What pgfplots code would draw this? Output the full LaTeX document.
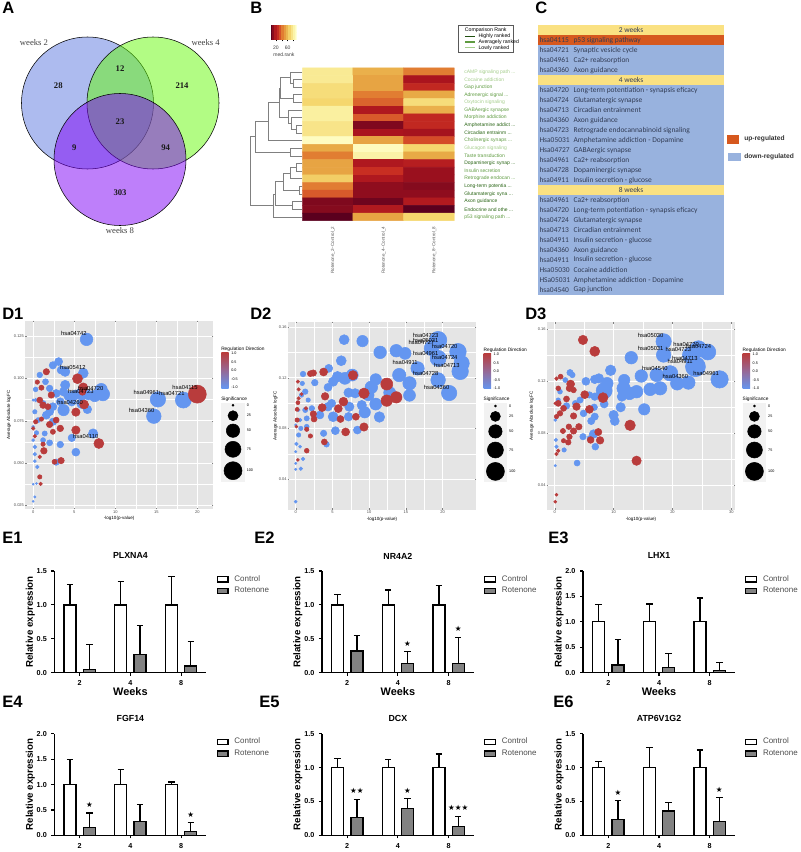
\documentclass[border=0pt]{standalone}
\usepackage{fontspec}
\usepackage{pgfplots}
\usepackage{pgfplotstable}
\pgfplotsset{compat=1.18}
\setmainfont{Liberation Sans}
\newfontfamily\venn{Liberation Serif}
\newfontfamily\calib{Carlito}
\newfontfamily\djv{DejaVu Sans}
\newcommand\fs[1]{\fontsize{#1}{#1}\selectfont}

\definecolor{vblue}{RGB}{92,120,224}
\definecolor{vgreen}{RGB}{102,250,10}
\definecolor{vpurple}{RGB}{125,0,245}
\definecolor{ggbg}{RGB}{229,229,229}
\definecolor{ggblue}{RGB}{100,150,240}
\definecolor{ggred}{RGB}{185,60,60}
\definecolor{ggmid}{RGB}{150,105,150}
\definecolor{gl}{RGB}{165,205,140}
\definecolor{gm}{RGB}{95,155,65}
\definecolor{gd}{RGB}{40,100,20}
\definecolor{thead}{RGB}{250,225,130}
\definecolor{tblue}{RGB}{152,178,222}
\definecolor{torange}{RGB}{214,88,30}
\definecolor{ttext}{RGB}{50,60,85}
\definecolor{rotgray}{RGB}{130,130,130}

\pgfplotsset{
  pxbox/.style n args={4}{at={({#1*0.75pt},{-#2*0.75pt})},anchor=north west,
    scale only axis,width={#3*0.75pt},height={#4*0.75pt}},
  /pgf/number format/assume math mode=true,
  sized/.style={scatter,only marks,mark=*,point meta=explicit,
    visualization depends on={\thisrow{r}*0.75 \as \ptr}},
  sizeit/.style={scatter/@pre marker code/.append style={/tikz/mark size=\ptr}},
  bubbles/.style={sized,scatter/use mapped color={draw=mapped color,fill=mapped color},sizeit},
  dstyle/.style={scaled ticks=false,axis background/.style={fill=ggbg},
    grid=both,major grid style={white,line width=0.5pt},minor grid style={white,line width=0.25pt},
    axis line style={draw=none},tick style={gray,line width=0.25pt},major tick length=1.2pt,minor tick length=0pt,
    minor x tick num=1,minor y tick num=1,
    tick label style={font=\fs{3},text=black!70,inner sep=0.6pt},
    xlabel={-log10(p-value)},ylabel={Average Absolute logFC},
    label style={font=\fs{3.4}},
    xlabel style={at={(axis description cs:0.5,-0.05)},anchor=center},
    colormap={updown}{rgb255=(100,150,240) rgb255=(185,60,60)},
    point meta min=-1,point meta max=1,clip=false},
  heat/.style={colormap={hm}{rgb255(0)=(90,0,30) rgb255(15)=(170,20,30) rgb255(30)=(205,50,35)
    rgb255(45)=(225,125,50) rgb255(60)=(232,170,70) rgb255(75)=(245,215,110) rgb255(88)=(250,240,160) rgb255(100)=(255,255,200)},
    point meta min=0,point meta max=1},
  % frames shared by a plot and the text axis drawn over it
  frameA/.style={pxbox={0}{0}{240}{240},hide axis,xmin=0,xmax=240,ymin=0,ymax=240,y dir=reverse,clip=false},
  frameDa/.style={pxbox={25}{320.7}{188.3}{188.6},xmin=-1,xmax=21.95,ymin=0.0228,ymax=0.134},
  frameDb/.style={pxbox={287.7}{321.7}{188.6}{188.3},xmin=-1.09,xmax=24.6,ymin=0.0156,ymax=0.1642},
  frameDc/.style={pxbox={546.7}{322.3}{188.6}{187.7},xmin=-1.36,xmax=30.67,ymin=0.0208,ymax=0.1655},
  textonly/.style={hide axis,clip=false},
}

% D panels: d = regulation direction, r = bubble radius
\pgfplotstableread{
x y d r
18.3 .0872 -1 8
15.2 .0876 -1 7.7
14.7 .0777 -1 7.3
6.5 .1230 -1 6.3
8.5 .0907 -1 6.7
8.3 .0935 -1 6
7.5 .0896 -1 5.7
6.7 .0902 -1 5
5.9 .0911 -1 5.7
5.1 .0902 -1 5
4.3 .0896 -1 4.7
3.7 .0921 -1 4.3
2.8 .0911 -1 4
3.9 .0961 -1 4.7
6.1 .1030 -1 5
3.9 .1039 -1 4.7
3.4 .1049 -1 4
3.1 .1099 -1 4
2.4 .1077 -1 3.7
.8 .1020 -1 2.8
1.5 .0980 -1 3
.3 .0935 -1 2.4
2.0 .0941 -1 3.3
0 .0872 -1 1.2
.3 .0872 -1 1.8
3.7 .0813 -1 5.7
2.4 .0833 -1 4
2 .0803 -1 4
1.2 .0852 -1 3
1.6 .0783 -1 4
6.6 .0817 -1 4.3
5.9 .0852 -1 5
4.7 .0862 -1 4.3
3.3 .0862 -1 4
.2 .0803 -1 2.2
.6 .0754 -1 2.5
2.4 .0744 -1 3.7
7.3 .0675 -1 4.7
4.7 .0649 -1 3.7
3.3 .0610 -1 3.3
5.2 .0565 -1 4
2 .0620 -1 3
1.4 .0675 -1 2.6
.4 .0679 -1 2.2
.2 .0596 -1 1.9
.2 .0553 -1 1.8
1.2 .0636 -1 2.5
2.8 .0506 -1 3.2
.5 .0478 -1 1.8
.2 .0512 -1 1.5
0 .0376 -1 1
.2 .0301 -1 1.2
0 .0275 -1 1
.4 .0380 -1 1
0 .0636 -1 1.5
0 .0714 -1 1.5
20.0 .0907 1 9
5.4 .0998 1 5
6.1 .0947 1 4.5
6 .0921 1 3.5
1.6 .1039 1 3.2
1 .0945 1 2.6
.5 .0978 1 2.2
2.2 .0902 1 3.2
.8 .0872 1 3
1.2 .0842 1 3.3
1.8 .0833 1 3
6.2 .0846 1 4.5
5.2 .0801 1 4.2
5.2 .0695 1 4.2
3.3 .0705 1 3.3
2 .0728 1 3.2
2.8 .0754 1 3
1 .0760 1 2.2
.3 .0744 1 2.2
0 .0705 1 1.8
.2 .0659 1 1.8
8 .0616 1 5
1.3 .0573 1 3.3
.8 .0537 1 1.8
1.2 .0612 1 2.2
3.4 .0515 1 3.2
2.6 .0508 1 2.5
.8 .0419 1 2.2
.9 .0378 1 1.8
2.4 .0685 1 2.6
}\dataDa

\pgfplotstableread{
x y d r
6.6 .1500 -1 5
9.1 .1489 -1 5.7
11.5 .1400 -1 6.3
13.7 .1413 -1 6.3
14.9 .1392 -1 6
19.4 .1497 -1 8.7
18.5 .1432 -1 7.3
22.1 .1405 -1 8.3
19.4 .1353 -1 8
22.6 .1313 -1 7.7
22.4 .1250 -1 8.3
16.6 .1274 -1 6.7
14.1 .1221 -1 6.7
15.5 .1156 -1 6.7
19.4 .1182 -1 7.3
20.9 .1079 -1 7.7
15.5 .1061 -1 6
12.8 .1082 -1 6
10.9 .1187 -1 5.7
10.3 .1124 -1 6.3
9.9 .1063 -1 5.7
10.9 .0992 -1 6
9.4 .0927 -1 5.7
11.4 .0890 -1 5.3
7.7 .1221 -1 6
6.7 .1195 -1 6
5.7 .1208 -1 5.3
5.1 .1169 -1 4.7
4.4 .1124 -1 4
6.2 .1334 -1 5
4.5 .1274 -1 4
1.0 .1229 -1 2.8
2.6 .1161 -1 3.3
.9 .1155 -1 2.2
1.3 .1090 -1 2.8
.8 .1063 -1 2.2
7.2 .1082 -1 4.7
8.1 .1077 -1 4.7
4.9 .0998 -1 4
4.4 .0971 -1 4.3
7.3 .0971 -1 4.7
9 .0984 -1 4.7
3.3 .0906 -1 4
5.1 .0892 -1 5
7.2 .0892 -1 4.3
1.5 .0879 -1 2.6
1.3 .0945 -1 2.6
2.2 .0958 -1 2.8
5.4 .0782 -1 4
3.8 .0761 -1 3.2
4.2 .0674 -1 2.8
8.4 .0787 -1 4
1.5 .0814 -1 2.4
.7 .0800 -1 2.2
.4 .0748 -1 2.2
.1 .0677 -1 1.8
.6 .0656 -1 1.5
0 .0616 -1 1.2
1 .0559 -1 1.8
.7 .0482 -1 1.8
0 .0524 -1 1.2
0 .0477 -1 1.2
0 .0222 -1 1.5
1.7 .1024 -1 2.2
.4 .0945 -1 1.5
0 .0827 -1 1.2
.6 .0866 -1 1.8
2 .1232 1 3
2.4 .1237 1 3.2
3.8 .1245 1 4
7.8 .1219 1 4.7
.3 .1169 1 1.7
.4 .1108 1 1.7
.8 .1071 1 1.5
.4 .1037 1 1.7
.3 .1003 1 2
.2 .0950 1 2
1.4 .0958 1 1.8
4 .1053 1 3.8
6.5 .1011 1 4.4
9.3 .1077 1 5.3
12.4 .1150 1 6
12.4 .1019 1 5.7
13.7 .1045 1 5.7
3.6 .0964 1 4
5.8 .0956 1 4
2.4 .0914 1 3.2
2.5 .0874 1 3
6.1 .0874 1 3.5
8.2 .0892 1 3.5
.2 .0866 1 2.2
.1 .0814 1 1.5
1.5 .0793 1 2.2
2 .0740 1 2.2
9.3 .0811 1 4.2
6.8 .0772 1 4
3.9 .0693 1 3
1.5 .0624 1 2.4
.3 .0551 1 1.5
}\dataDb

\pgfplotstableread{
x y d r
18.5 .1508 -1 7.7
24.4 .1449 -1 8.3
26 .1426 -1 8
23 .1403 -1 7.7
18.5 .1403 -1 7.3
13 .1382 -1 6.3
23.9 .1313 -1 10
19.6 .1262 -1 7.7
17.3 .1249 -1 6.7
14.7 .1241 -1 6.3
9.5 .1285 -1 5.3
28 .1215 -1 8.7
22.7 .1190 -1 6.7
20.8 .1184 -1 6.7
17.9 .1146 -1 6.7
16.2 .1138 -1 6.3
13.9 .1120 -1 6.3
12.7 .1107 -1 6.3
11.8 .1210 -1 5.7
11.7 .1146 -1 6.7
11.4 .1082 -1 4.7
11.2 .1000 -1 4.7
15.2 .0984 -1 5.7
8.9 .1184 -1 6
8.4 .1128 -1 8
7.5 .1223 -1 4.7
6.8 .1215 -1 4.3
5.3 .1200 -1 4
2.6 .1267 -1 3.2
3 .1249 -1 2.8
1.8 .1210 -1 2.5
8.4 .1025 -1 4
6.7 .1000 -1 3.3
4.9 .0953 -1 3.4
6.8 .0928 -1 3.6
6.2 .0894 -1 3.6
10 .0940 -1 4.7
10.2 .0894 -1 4.5
4.8 .0773 -1 3.2
6.6 .0794 -1 4.3
6 .0760 -1 3
6.9 .0696 -1 3.4
3.8 .0570 -1 3
1.6 .0671 -1 2.2
.1 .0550 -1 1.2
.9 .1120 -1 2.4
.6 .1056 -1 2.2
2 .1010 -1 3.3
4.3 .1056 -1 3.2
3.5 .1030 -1 3
6.8 .1082 -1 3.8
5.9 .1095 -1 3.2
.1 .0902 -1 1.5
.2 .0748 -1 1.7
.3 .0696 -1 1.8
4.8 .1519 1 4.7
6.8 .1431 1 5
8.2 .1074 1 5
12.8 .0861 1 5.3
13.9 .0588 1 4.7
.3 .1221 1 1.8
1 .1236 1 2.5
2.7 .1179 1 4
2.5 .1146 1 3.3
.6 .1146 1 2.4
5.1 .1097 1 4
5.9 .0984 1 4
3.2 .1133 1 2.8
2 .1064 1 3
.6 .1030 1 3
3.7 .1005 1 3.8
3.2 .0933 1 3.2
.9 .0953 1 2.8
1.5 .0992 1 3
.1 .1030 1 1.5
.3 .0928 1 2.2
2.4 .0850 1 2.8
3.2 .0817 1 3.2
4.1 .0850 1 3.2
1.4 .0817 1 2.6
7.4 .0809 1 3.6
6.1 .0748 1 3.4
7.7 .0745 1 3.8
2.5 .0773 1 2.8
2.3 .0730 1 2.8
1.5 .0742 1 2.2
.6 .0665 1 1.8
.3 .0640 1 1.8
.3 .0326 1 1.5
.1 .0272 1 1.5
}\dataDc

\pgfplotstableread{
x y r
11.7 2.6 1
11.7 13 5
11.7 28 6.7
11.7 46.6 8
11.7 68 9
}\dataKey

\pgfplotstableread{
x y c
0 0 .85
1 0 .62
2 0 .45
0 1 .85
1 1 .58
2 1 .15
0 2 .78
1 2 .58
2 2 .25
0 3 .78
1 3 .45
2 3 .60
0 4 .75
1 4 .40
2 4 .78
0 5 .88
1 5 .17
2 5 .62
0 6 .88
1 6 .38
2 6 .25
0 7 .82
1 7 .07
2 7 .25
0 8 .82
1 8 .15
2 8 .14
0 9 .98
1 9 .58
2 9 .35
0 10 .60
1 10 .97
2 10 .75
0 11 .45
1 11 .90
2 11 .60
0 12 .58
1 12 .17
2 12 .20
0 13 .58
1 13 .28
2 13 .12
0 14 .72
1 14 .17
2 14 .12
0 15 .45
1 15 .10
2 15 .08
0 16 .38
1 16 .10
2 16 .10
0 17 .07
1 17 .04
2 17 .18
0 18 .08
1 18 .18
2 18 .00
0 19 .00
1 19 .58
2 19 .75
}\dataHeat

% significance key and colour bar, shifted per D panel
\newcommand\sigkey[2]{%
  \begin{scope}[x=0.75pt,y=-0.75pt,shift={(#1,#2)}]
    \node[anchor=west,inner sep=0pt,font=\fs{3.6}] at (221,349.3) {Regulation Direction};
    \shade[bottom color=ggblue,top color=ggred,middle color=ggmid] (221.3,352.7) rectangle (228.7,388);
    \node[anchor=west,inner sep=0pt,font=\fs{2.8}] at (231,353.7) {1.0};
    \node[anchor=west,inner sep=0pt,font=\fs{2.8}] at (231,362.3) {0.5};
    \node[anchor=west,inner sep=0pt,font=\fs{2.8}] at (231,370.7) {0.0};
    \node[anchor=west,inner sep=0pt,font=\fs{2.8}] at (231,379.3) {-0.5};
    \node[anchor=west,inner sep=0pt,font=\fs{2.8}] at (231,387.3) {-1.0};
    \node[anchor=west,inner sep=0pt,font=\fs{3.6}] at (221,399) {Significance};
    \node[anchor=west,inner sep=0pt,font=\fs{2.8}] at (246.5,405.3) {0};
    \node[anchor=west,inner sep=0pt,font=\fs{2.8}] at (246.5,415.7) {25};
    \node[anchor=west,inner sep=0pt,font=\fs{2.8}] at (246.5,430.7) {50};
    \node[anchor=west,inner sep=0pt,font=\fs{2.8}] at (246.5,449.3) {75};
    \node[anchor=west,inner sep=0pt,font=\fs{2.8}] at (246.5,470.7) {100};
  \end{scope}
  \pgfmathsetmacro\kx{221.3+#1}\pgfmathsetmacro\ky{402.7+#2}
  \begin{axis}[pxbox={\kx}{\ky}{23.4}{79},hide axis,xmin=0,xmax=23.4,ymin=0,ymax=79,y dir=reverse,clip=false]
    \addplot[fill=black!5,draw=none] coordinates {(0,0)(23.4,0)(23.4,79)(0,79)} --cycle;
    \addplot[sized,scatter/use mapped color={draw=black,fill=black},sizeit] table[meta=r]{\dataKey};
  \end{axis}}

% one bar panel: left, top, ymax, title, control, rotenone, extras, xlabel
\newcommand\barpanel[8]{%
  \begin{axis}[pxbox={#1}{#2}{152}{101.7},ybar=5.5pt,bar width=9pt,xmin=-0.5,xmax=2.5,ymin=0,ymax=#3,
      axis lines=left,axis line style={-,line width=0.9pt},clip=false,
      xtick={0,1,2},xticklabels={2,4,8},ytick={0,0.5,...,#3},
      tick align=outside,major tick length=2.2pt,tick style={line width=0.8pt,black},
      xtick pos=lower,ytick pos=left,
      tick label style={font=\fs{5.4}\bfseries},
      yticklabel style={/pgf/number format/.cd,fixed,fixed zerofill,precision=1},
      title={#4},title style={font=\fs{6.6}\bfseries,at={(axis description cs:0.5,1.148)},anchor=center,yshift=-6pt},
      ylabel={Relative expression},ylabel style={font=\fs{7.3}\bfseries,at={(axis description cs:-0.158,0.5)},anchor=center},
      xlabel={#8},xlabel style={font=\fs{8.2}\bfseries,at={(axis description cs:0.5,-0.19)},anchor=center},
      legend style={at={(1.065,0.985)},anchor=north west,draw=none,fill=none,font=\fs{6},text=black!70,
        inner sep=0pt,row sep=-1pt,legend cell align=left},
      legend image code/.code={\draw[##1,line width=0.9pt] (0pt,-2pt) rectangle (8.2pt,2pt);\path (10.5pt,0pt);},
      error bars/error bar style={line width=0.9pt,black},
      error bars/error mark options={rotate=90,mark size=2.4pt,line width=0.9pt,black}]
    \addplot[fill=white,draw=black,line width=0.9pt,error bars/.cd,y dir=plus,y explicit] coordinates {#5};
    \addlegendentry{Control}
    \addplot[fill=rotgray,draw=black,line width=0.9pt,error bars/.cd,y dir=plus,y explicit] coordinates {#6};
    \addlegendentry{Rotenone}
    #7
  \end{axis}}
\newcommand\st[3]{\node[font=\djv\fs{5.6},inner sep=0pt] at (axis cs:#1+0.19,#2) {#3};}

\newcommand\lab[3]{\node[anchor=west,inner sep=0pt,font=\fs{12.4}\bfseries] at ({#1*0.75pt},{-#2*0.75pt}) {#3};}
\newcommand\fg[4]{\node[#1] at (axis cs:#2,#3) {#4};}

\begin{document}
\begin{tikzpicture}
\path[use as bounding box] (0,0) rectangle (600pt,-639pt);

\lab{2}{8}{A}\lab{250}{8}{B}\lab{535}{8}{C}
\lab{2}{314}{D1}\lab{250}{314}{D2}\lab{525}{314}{D3}
\lab{2}{538}{E1}\lab{254}{538}{E2}\lab{548}{538}{E3}
\lab{2}{702}{E4}\lab{259}{702}{E5}\lab{553}{702}{E6}

% A: Venn, coordinates are pixels of the panel
\tikzset{vn/.style={font=\venn\fs{6.5}\bfseries,inner sep=0pt,text=black!90},vl/.style={font=\venn\fs{6.5},inner sep=0pt,text=black!75}}
\begin{axis}[frameA]
  \addplot[only marks,mark=*,mark size=49.5pt,mark options={draw=none,fill=vblue,fill opacity=0.5}] coordinates {(87.5,103)};
  \addplot[only marks,mark=*,mark size=49.5pt,mark options={draw=none,fill=vgreen,fill opacity=0.5}] coordinates {(153,103)};
  \addplot[only marks,mark=*,mark size=49.5pt,mark options={draw=none,fill=vpurple,fill opacity=0.5}] coordinates {(120,159.5)};
\end{axis}
\begin{axis}[frameA]
  \fg{vl}{34}{42.7}{weeks 2}
  \fg{vl}{205.7}{42.7}{weeks 4}
  \fg{vl}{120}{231}{weeks 8}
  \fg{vn}{58.3}{86}{28}
  \fg{vn}{120}{69}{12}
  \fg{vn}{182}{86}{214}
  \fg{vn}{120}{121.7}{23}
  \fg{vn}{74.3}{148}{9}
  \fg{vn}{165.7}{148}{94}
  \fg{vn}{120}{193}{303}
\end{axis}

% B: dendrogram, x in px from the panel edge, y in rows
\begin{axis}[pxbox={240}{68}{62.3}{152.7},hide axis,xmin=0,xmax=187,ymin=0.5,ymax=20.5,y dir=reverse,clip=false,unbounded coords=jump]
  \addplot[gray,line width=0.45pt] coordinates {
    (187,2)(160,2)(160,3)(187,3)(0,nan)
    (187,1)(150,1)(150,2.5)(160,2.5)(0,nan)
    (187,4)(160,4)(160,5)(187,5)(0,nan)
    (150,1.75)(122,1.75)(122,4.5)(160,4.5)(0,nan)
    (187,8)(170,8)(170,9)(187,9)(0,nan)
    (187,7)(155,7)(155,8.5)(170,8.5)(0,nan)
    (187,6)(145,6)(145,7.75)(155,7.75)(0,nan)
    (122,3.1)(118,3.1)(118,6.9)(145,6.9)(0,nan)
    (118,5)(85,5)(85,10)(187,10)(0,nan)
    (187,11)(150,11)(150,12)(187,12)(0,nan)
    (85,7.5)(45,7.5)(45,11.5)(150,11.5)(0,nan)
    (187,13)(170,13)(170,14)(187,14)(0,nan)
    (170,13.5)(152,13.5)(152,15)(187,15)(0,nan)
    (187,16)(178,16)(178,17)(187,17)(0,nan)
    (152,14.25)(130,14.25)(130,16.5)(178,16.5)(0,nan)
    (187,18)(158,18)(158,19)(187,19)(0,nan)
    (130,15.4)(105,15.4)(105,18.5)(158,18.5)(0,nan)
    (105,17)(100,17)(100,20)(187,20)(0,nan)
    (45,9.5)(30,9.5)(30,18.5)(100,18.5)
  };
\end{axis}

% B: heat map
\begin{axis}[pxbox={302.3}{68}{152}{152.7},heat,xmin=-0.5,xmax=2.5,ymin=-0.5,ymax=19.5,y dir=reverse,
    axis line style={draw=none},major tick length=0pt,
    xtick={0,1,2},xticklabels={Rotenone\_2\textasciitilde Control\_2,Rotenone\_4\textasciitilde Control\_4,Rotenone\_8\textasciitilde Control\_8},
    xticklabel style={rotate=90,anchor=east,font=\fs{3.4},text=black!65,xshift=-1pt,yshift=-4pt},
    ytick={0,...,19},yticklabel pos=right,
    yticklabel style={font=\fs{3.75},anchor=west,xshift=4pt},
    yticklabels={\textcolor{gl}{cAMP signaling path ...},\textcolor{gl}{Cocaine addiction},\textcolor{gm}{Gap junction},
      \textcolor{gm}{Adrenergic signal ...},\textcolor{gl}{Oxytocin signaling},\textcolor{gm}{GABAergic synapse},
      \textcolor{gm}{Morphine addiction},\textcolor{gd}{Amphetamine addict ...},\textcolor{gd}{Circadian entrainm ...},
      \textcolor{gm}{Cholinergic synaps ...},\textcolor{gl}{Glucagon signaling},\textcolor{gm}{Taste transduction},
      \textcolor{gd}{Dopaminergic synap ...},\textcolor{gm}{Insulin secretion},\textcolor{gm}{Retrograde endocan ...},
      \textcolor{gd}{Long-term potentia ...},\textcolor{gd}{Glutamatergic syna ...},\textcolor{gd}{Axon guidance},
      \textcolor{gd}{Endocrine and othe ...},\textcolor{gm}{p53 signaling path ...}}]
  \addplot[matrix plot*,mesh/cols=3,point meta=explicit] table[meta=c]{\dataHeat};
\end{axis}

% B: colour key
\begin{axis}[pxbox={271}{25.3}{25.7}{14},heat,xmin=3,xmax=91,ymin=0,ymax=1,
    axis y line=none,axis x line=bottom,x axis line style={draw=none,-},
    xtick={20,40,60,80},xticklabels={20,,60,},tick align=outside,major tick length=1.5pt,tick style={black,line width=0.3pt},
    xticklabel style={font=\fs{3.8},text=black!75},xlabel={med.rank},
    xlabel style={font=\fs{3.8},text=black!75,at={(axis description cs:0.5,-1.12)},anchor=center}]
  \addplot[matrix plot*,mesh/cols=12,point meta=explicit] table[meta=c]{
x y c
3 0 0
11 0 .09
19 0 .18
27 0 .27
35 0 .36
43 0 .45
51 0 .55
59 0 .64
67 0 .73
75 0 .82
83 0 .91
91 0 1
3 1 0
11 1 .09
19 1 .18
27 1 .27
35 1 .36
43 1 .45
51 1 .55
59 1 .64
67 1 .73
75 1 .82
83 1 .91
91 1 1
};
\end{axis}

% B: comparison rank legend
\begin{scope}[x=0.75pt,y=-0.75pt]
  \draw[black!65,line width=0.4pt] (458.3,25) rectangle (513.3,52.7);
  \node[font=\fs{3.9},inner sep=0pt] at (485.7,29.7) {Comparison Rank};
  \draw[gd!80!black,line width=0.8pt] (465,36.3) -- (475,36.3);
  \draw[gm,line width=0.8pt] (465,42) -- (475,42);
  \draw[gl,line width=0.8pt] (465,47.7) -- (475,47.7);
  \node[anchor=west,font=\fs{3.9},inner sep=0pt] at (478.3,36.3) {Highly ranked};
  \node[anchor=west,font=\fs{3.9},inner sep=0pt] at (478.3,42) {Averagely ranked};
  \node[anchor=west,font=\fs{3.9},inner sep=0pt] at (478.3,47.7) {Lowly ranked};
\end{scope}

% C: pathway table, one row per y unit
\newcommand\crow[3]{\node[anchor=west,inner sep=0pt,font=\calib\fs{5.6},text=ttext] at (axis cs:1,#1+0.5) {#2};
  \node[anchor=west,inner sep=0pt,font=\calib\fs{5.6},text=ttext] at (axis cs:35,#1+0.5) {#3};}
\newcommand\chead[2]{\node[inner sep=0pt,font=\calib\fs{5.6},text=ttext] at (axis cs:92.7,#1+0.5) {#2};}
\begin{axis}[pxbox={538.3}{25.3}{185.4}{269.7},hide axis,xmin=0,xmax=185.4,ymin=0,ymax=27,y dir=reverse,clip=false]
  \addplot[fill=thead,draw=none] coordinates {(0,0)(185.4,0)(185.4,1)(0,1)} --cycle;
  \addplot[fill=torange,draw=none] coordinates {(0,1)(185.4,1)(185.4,2)(0,2)} --cycle;
  \addplot[fill=tblue,draw=none] coordinates {(0,2)(185.4,2)(185.4,5)(0,5)} --cycle;
  \addplot[fill=thead,draw=none] coordinates {(0,5)(185.4,5)(185.4,6)(0,6)} --cycle;
  \addplot[fill=tblue,draw=none] coordinates {(0,6)(185.4,6)(185.4,16)(0,16)} --cycle;
  \addplot[fill=thead,draw=none] coordinates {(0,16)(185.4,16)(185.4,17)(0,17)} --cycle;
  \addplot[fill=tblue,draw=none] coordinates {(0,17)(185.4,17)(185.4,27)(0,27)} --cycle;
  \chead{0}{2 weeks}\chead{5}{4 weeks}\chead{16}{8 weeks}
  \crow{1}{hsa04115}{p53 signaling pathway}
  \crow{2}{hsa04721}{Synaptic vesicle cycle}
  \crow{3}{hsa04961}{Ca2+ reabsorption}
  \crow{4}{hsa04360}{Axon guidance}
  \crow{6}{hsa04720}{Long-term potentiation - synapsis eficacy}
  \crow{7}{hsa04724}{Glutamatergic synapse}
  \crow{8}{hsa04713}{Circadian entrainment}
  \crow{9}{hsa04360}{Axon guidance}
  \crow{10}{hsa04723}{Retrograde endocannabinoid signaling}
  \crow{11}{Hsa05031}{Amphetamine addiction - Dopamine}
  \crow{12}{Hsa04727}{GABAergic synapse}
  \crow{13}{hsa04961}{Ca2+ reabsorption}
  \crow{14}{hsa04728}{Dopaminergic synapse}
  \crow{15}{hsa04911}{Insulin secretion - glucose}
  \crow{17}{hsa04961}{Ca2+ reabsorption}
  \crow{18}{hsa04720}{Long-term potentiation - synapsis eficacy}
  \crow{19}{hsa04724}{Glutamatergic synapse}
  \crow{20}{hsa04713}{Circadian entrainment}
  \crow{21}{hsa04911}{Insulin secretion - glucose}
  \crow{22}{hsa04360}{Axon guidance}
  \crow{23}{hsa04911}{Insulin secretion - glucose}
  \crow{24}{Hsa05030}{Cocaine addiction}
  \crow{25}{HSa05031}{Amphetamine addiction - Dopamine}
  \crow{26}{hsa04540}{Gap junction}
\end{axis}
\begin{scope}[x=0.75pt,y=-0.75pt]
  \fill[torange] (726.7,135) rectangle (739.3,144);
  \fill[tblue] (727.7,152.7) rectangle (740.7,161.3);
  \node[anchor=west,inner sep=0pt,font=\fs{5}\bfseries,text=black!80] at (744,139) {up-regulated};
  \node[anchor=west,inner sep=0pt,font=\fs{5}\bfseries,text=black!80] at (744,157) {down-regulated};
\end{scope}

% D panels: bubbles, then the pathway names in a text axis above them
\tikzset{hs/.style={font=\fs{4.35},inner sep=0pt}}
\begin{axis}[frameDa,dstyle,
    xtick={0,5,10,15,20},ytick={0.025,0.05,0.075,0.1,0.125},
    yticklabel style={/pgf/number format/.cd,fixed,fixed zerofill,precision=3},
    ylabel style={at={(axis description cs:-0.085,0.5)},anchor=center}]
  \addplot[bubbles] table[meta=d]{\dataDa};
\end{axis}
\begin{axis}[frameDa,textonly]
  \fg{hs}{4.96}{.1266}{hsa04742}
  \fg{hs}{4.83}{.1065}{hsa05412}
  \fg{hs}{7.0}{.0943}{hsa04720}
  \fg{hs}{5.8}{.0923}{hsa04723}
  \fg{hs}{4.5}{.0860}{hsa04260}
  \fg{hs}{18.5}{.0945}{hsa04115}
  \fg{hs}{13.8}{.0915}{hsa04961}
  \fg{hs}{16.9}{.0911}{hsa04721}
  \fg{hs}{13.2}{.0813}{hsa04360}
  \fg{hs}{6.4}{.0655}{hsa04110}
\end{axis}
\sigkey{0}{0}

\begin{axis}[frameDb,dstyle,
    xtick={0,5,10,15,20},ytick={0.04,0.08,0.12,0.16},
    yticklabel style={/pgf/number format/.cd,fixed,fixed zerofill,precision=2},
    ylabel style={at={(axis description cs:-0.065,0.5)},anchor=center}]
  \addplot[bubbles] table[meta=d]{\dataDb};
\end{axis}
\begin{axis}[frameDb,textonly]
  \fg{hs}{17.7}{.1537}{hsa04723}
  \fg{hs}{17.1}{.1482}{hsa04727}
  \fg{hs}{17.7}{.1492}{hsa05031}
  \fg{hs}{20.3}{.1447}{hsa04720}
  \fg{hs}{17.7}{.1395}{hsa04961}
  \fg{hs}{20.3}{.1361}{hsa04724}
  \fg{hs}{20.6}{.1300}{hsa04713}
  \fg{hs}{14.9}{.1319}{hsa04911}
  \fg{hs}{17.7}{.1232}{hsa04728}
  \fg{hs}{19.2}{.1127}{hsa04360}
\end{axis}
\sigkey{262.4}{0.7}

\begin{axis}[frameDc,dstyle,
    xtick={0,10,20,30},ytick={0.04,0.08,0.12,0.16},
    yticklabel style={/pgf/number format/.cd,fixed,fixed zerofill,precision=2},
    ylabel style={at={(axis description cs:-0.08,0.5)},anchor=center}]
  \addplot[bubbles] table[meta=d]{\dataDc};
\end{axis}
\begin{axis}[frameDc,textonly]
  \fg{hs}{16.3}{.1552}{hsa05030}
  \fg{hs}{22.3}{.1488}{hsa04720}
  \fg{hs}{24.4}{.1467}{hsa04724}
  \fg{hs}{21}{.1449}{hsa04723}
  \fg{hs}{16.3}{.1452}{hsa05031}
  \fg{hs}{22.1}{.1377}{hsa04713}
  \fg{hs}{21.3}{.1354}{hsa04911}
  \fg{hs}{17}{.1303}{hsa04540}
  \fg{hs}{20.5}{.1236}{hsa04360}
  \fg{hs}{25.7}{.1264}{hsa04961}
\end{axis}
\sigkey{521.4}{0.7}

% E panels
\barpanel{54.4}{571}{1.5}{PLXNA4}
  {(0,1) +- (0,.30) (1,1) +- (0,.35) (2,1) +- (0,.42)}
  {(0,.05) +- (0,.37) (1,.27) +- (0,.43) (2,.10) +- (0,.36)}{}{Weeks}
\barpanel{321.9}{571}{1.5}{NR4A2}
  {(0,1) +- (0,.15) (1,1) +- (0,.22) (2,1) +- (0,.29)}
  {(0,.32) +- (0,.23) (1,.14) +- (0,.17) (2,.14) +- (0,.38)}
  {\st{1}{.43}{★}\st{2}{.64}{★}}{Weeks}
\barpanel{583}{571}{2.0}{LHX1}
  {(0,1) +- (0,.34) (1,1) +- (0,.35) (2,1) +- (0,.47)}
  {(0,.15) +- (0,.51) (1,.10) +- (0,.28) (2,.05) +- (0,.15)}{}{Weeks}
\barpanel{54.4}{733.7}{2.0}{FGF14}
  {(0,1) +- (0,.50) (1,1) +- (0,.29) (2,1) +- (0,.05)}
  {(0,.15) +- (0,.29) (1,.28) +- (0,.32) (2,.08) +- (0,.17)}
  {\st{0}{.61}{★}\st{2}{.41}{★}}{}
\barpanel{321.9}{733.7}{1.5}{DCX}
  {(0,1) +- (0,.13) (1,1) +- (0,.12) (2,1) +- (0,.20)}
  {(0,.26) +- (0,.27) (1,.40) +- (0,.15) (2,.13) +- (0,.15)}
  {\st{0}{.664}{★★}\st{1}{.664}{★}\st{2}{.40}{★★★}}{}
\barpanel{583}{733.7}{1.5}{ATP6V1G2}
  {(0,1) +- (0,.09) (1,1) +- (0,.30) (2,1) +- (0,.26)}
  {(0,.24) +- (0,.28) (1,.36) +- (0,.13) (2,.20) +- (0,.36)}
  {\st{0}{.635}{★}\st{2}{.675}{★}}{}
\end{tikzpicture}
\end{document}
